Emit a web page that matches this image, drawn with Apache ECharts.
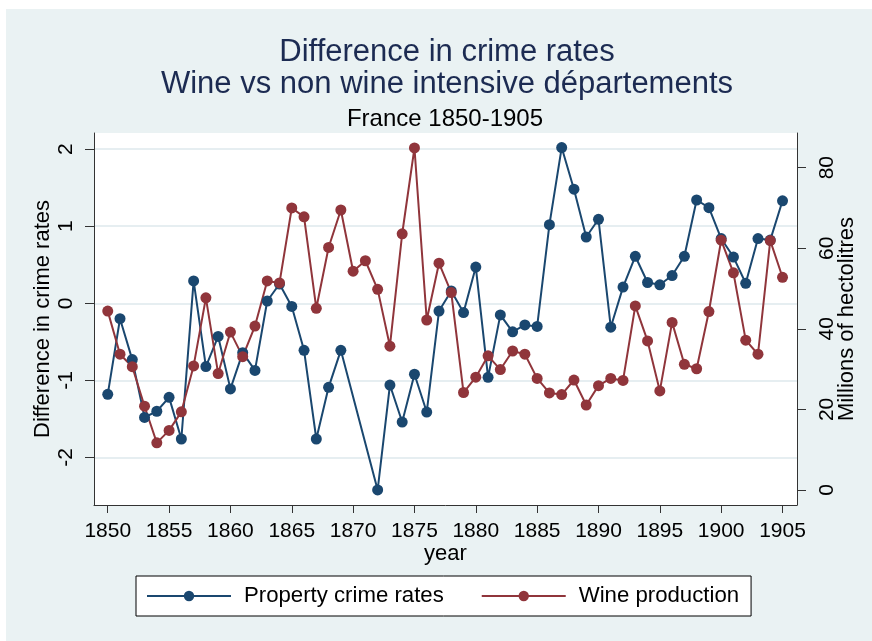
<!DOCTYPE html>
<html lang="en">
<head>
    <meta charset="UTF-8">
    <title>Difference in crime rates</title>
    <script src="https://cdn.jsdelivr.net/npm/echarts@6/dist/echarts.min.js"></script>
    <style>
        html, body { margin: 0; padding: 0; overflow: hidden; background: #eaf2f3; }
        #main { width: 872px; height: 641px; }
    </style>
</head>
<body>
<div id="main"></div>
<script type="text/javascript">
// values
var years = [];
for (var y = 1850; y <= 1905; y++) years.push(y);

var crimeRates = [
    -1.18, -0.20, -0.73, -1.48, -1.40, -1.22, -1.76, 0.29, -0.82, -0.43,
    -1.11, -0.64, -0.87, 0.03, 0.25, -0.04, -0.61, -1.76, -1.09, -0.61,
    null, null, -2.42, -1.06, -1.54, -0.92, -1.41, -0.10, 0.16, -0.12,
    0.47, -0.96, -0.15, -0.37, -0.28, -0.30, 1.02, 2.02, 1.48, 0.86,
    1.09, -0.31, 0.21, 0.61, 0.27, 0.24, 0.36, 0.61, 1.34, 1.24,
    0.84, 0.60, 0.26, 0.84, 0.82, 1.33
];

var wineProduction = [
    44.4, 33.7, 30.6, 20.8, 11.7, 14.8, 19.4, 30.8, 47.7, 28.9,
    39.2, 33.1, 40.7, 51.9, 51.4, 70.0, 67.8, 45.1, 60.2, 69.5,
    54.3, 56.9, 49.8, 35.7, 63.6, 84.9, 42.2, 56.3, 49.0, 24.2,
    28.0, 33.3, 29.9, 34.5, 33.7, 27.7, 24.1, 23.7, 27.3, 21.1,
    25.9, 27.7, 27.2, 45.7, 37.0, 24.6, 41.6, 31.2, 30.1, 44.3,
    62.0, 53.9, 37.2, 33.7, 61.9, 52.8
];

var yearTicks = [1850, 1855, 1860, 1865, 1870, 1875, 1880, 1885, 1890, 1895, 1900, 1905];
var leftTicks = [-2, -1, 0, 1, 2];
var rightTicks = [0, 20, 40, 60, 80];

function pairs(vals) {
    return years.map(function (yr, i) { return [yr, vals[i]]; });
}

var FONT = 'Liberation Sans';
var BLUE = '#1a476f';
var RED = '#90353b';
var AXIS = '#333333';

var myChart = echarts.init(document.getElementById('main'));

var option = {
    backgroundColor: '#eaf2f3',
    textStyle: { fontFamily: FONT },
    graphic: [
        { type: 'rect', left: 0, top: 0, shape: { width: 872, height: 9 }, style: { fill: '#fff' } },
        { type: 'rect', left: 0, top: 0, shape: { width: 6, height: 641 }, style: { fill: '#fff' } }
    ],
    title: [
        {
            text: 'Difference in crime rates\nWine vs non wine intensive départements',
            left: 442, top: 31, textAlign: 'center',
            textStyle: { fontFamily: FONT, fontSize: 31, fontWeight: 'normal', color: '#1c2b52', lineHeight: 32 }
        },
        {
            text: 'France 1850-1905',
            left: 440, top: 102, textAlign: 'center',
            textStyle: { fontFamily: FONT, fontSize: 24, fontWeight: 'normal', color: '#000' }
        }
    ],
    legend: {
        data: ['Property crime rates', 'Wine production'],
        left: 136, top: 576,
        padding: [9, 12, 9, 10],
        itemGap: 37,
        itemWidth: 84,
        itemHeight: 13,
        backgroundColor: '#fff',
        borderColor: '#000',
        borderWidth: 1,
        textStyle: { fontFamily: FONT, fontSize: 22.2, color: '#000', padding: [0, 0, 0, 8] }
    },
    grid: {
        left: 94, right: 75, top: 133, bottom: 136,
        outerBoundsMode: 'none',
        containLabel: false,
        show: true, backgroundColor: '#fff', borderWidth: 0
    },
    xAxis: {
        type: 'value',
        min: 1848.88, max: 1906.18,
        name: 'year', nameLocation: 'middle', nameGap: 38,
        nameMoveOverlap: false,
        nameTextStyle: { fontFamily: FONT, fontSize: 22, color: '#000' },
        axisLine: { show: true, onZero: false, lineStyle: { color: AXIS, width: 1 } },
        axisTick: { show: true, length: 8, customValues: yearTicks, lineStyle: { color: AXIS } },
        axisLabel: {
            customValues: yearTicks, margin: 16,
            fontFamily: FONT, fontSize: 21, color: '#000',
            formatter: function (v) { return String(v); }
        },
        splitLine: { show: false }
    },
    yAxis: [
        {
            type: 'value', position: 'left',
            min: -2.616, max: 2.209,
            name: 'Difference in crime rates', nameLocation: 'middle', nameGap: 40,
            nameMoveOverlap: false,
            nameTextStyle: { fontFamily: FONT, fontSize: 22, color: '#000' },
            axisLine: { show: true, onZero: false, lineStyle: { color: AXIS, width: 1 } },
            axisTick: { show: true, length: 9, customValues: leftTicks, lineStyle: { color: AXIS } },
            axisLabel: {
                customValues: leftTicks, rotate: 90, margin: 17,
                fontFamily: FONT, fontSize: 21, color: '#000'
            },
            splitLine: { show: true, lineStyle: { color: '#e6eef1', width: 2 } }
        },
        {
            type: 'value', position: 'right',
            min: -3.72, max: 88.61,
            name: 'Millions of hectolitres', nameLocation: 'middle', nameGap: 39,
            nameMoveOverlap: false,
            nameTextStyle: { fontFamily: FONT, fontSize: 22, color: '#000' },
            axisLine: { show: true, onZero: false, lineStyle: { color: AXIS, width: 1 } },
            axisTick: { show: true, length: 9, customValues: rightTicks, lineStyle: { color: AXIS } },
            axisLabel: {
                customValues: rightTicks, rotate: 90, margin: 20,
                fontFamily: FONT, fontSize: 21, color: '#000'
            },
            splitLine: { show: false }
        }
    ],
    series: [
        {
            name: 'Property crime rates',
            type: 'line',
            yAxisIndex: 0,
            data: pairs(crimeRates),
            connectNulls: true,
            symbol: 'circle', symbolSize: 11,
            itemStyle: { color: BLUE },
            lineStyle: { color: BLUE, width: 2 },
            animation: false
        },
        {
            name: 'Wine production',
            type: 'line',
            yAxisIndex: 1,
            data: pairs(wineProduction),
            symbol: 'circle', symbolSize: 11,
            itemStyle: { color: RED },
            lineStyle: { color: RED, width: 2 },
            animation: false
        }
    ]
};
myChart.setOption(option);
</script>
</body>
</html>
